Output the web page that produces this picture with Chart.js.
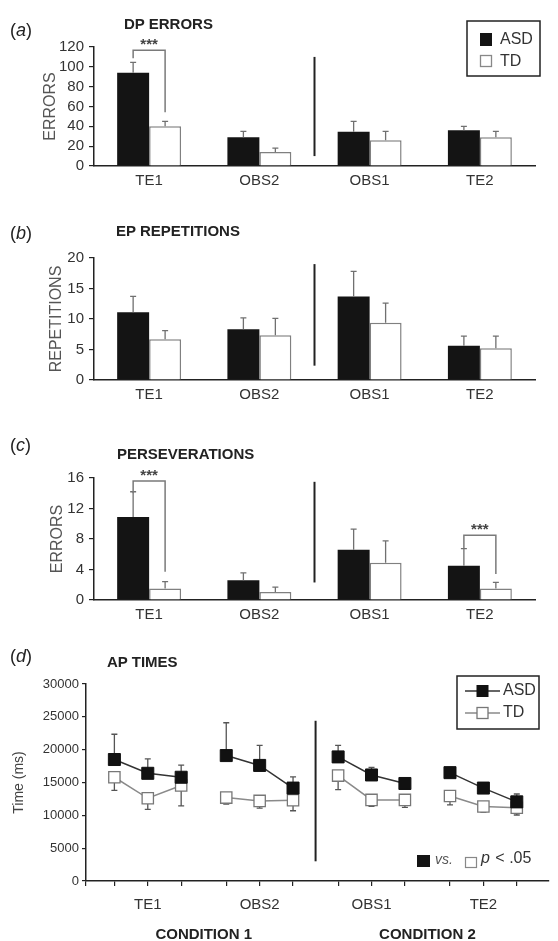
<!DOCTYPE html>
<html><head><meta charset="utf-8">
<script src="https://cdn.jsdelivr.net/npm/chart.js@4.4.0/dist/chart.umd.min.js"></script>
<style>
html,body{margin:0;padding:0;background:#fff;}
body{width:558px;height:941px;position:relative;overflow:hidden;font-family:"Liberation Sans",Arial,sans-serif;}
canvas{position:absolute;left:0;}
.lab{position:absolute;font-size:18px;color:#222;line-height:1;z-index:2;}
.ttl{position:absolute;font-size:15px;font-weight:bold;color:#222;line-height:1;z-index:2;white-space:nowrap;}
</style></head><body>
<canvas id="ca" width="558" height="192" style="top:0px"></canvas>
<canvas id="cb" width="558" height="212" style="top:190px"></canvas>
<canvas id="cc" width="558" height="218" style="top:410px"></canvas>
<canvas id="cd" width="558" height="301" style="top:640px"></canvas>
<div class="lab" style="left:10px;top:21px">(<i>a</i>)</div>
<div class="ttl" style="left:124px;top:16px">DP ERRORS</div>
<div class="lab" style="left:10px;top:224px">(<i>b</i>)</div>
<div class="ttl" style="left:116px;top:223px">EP REPETITIONS</div>
<div class="lab" style="left:10px;top:436px">(<i>c</i>)</div>
<div class="ttl" style="left:117px;top:446px">PERSEVERATIONS</div>
<div class="lab" style="left:10px;top:647px">(<i>d</i>)</div>
<div class="ttl" style="left:107px;top:654px">AP TIMES</div>
<script>
// ---------- DATA ----------
const categories = ['TE1', 'OBS2', 'OBS1', 'TE2'];
const seriesNames = ['ASD', 'TD'];

// (a) DP errors
const dpASD    = [94, 29, 34.5, 36];
const dpASDErr = [10.5, 6, 10.5, 4];
const dpTD     = [40, 14, 26, 29];
const dpTDErr  = [5, 4, 9, 6];
const dpTicks  = [0, 20, 40, 60, 80, 100, 120];

// (b) EP repetitions
const epASD    = [11.1, 8.3, 13.7, 5.6];
const epASDErr = [2.6, 1.9, 4.1, 1.6];
const epTD     = [6.7, 7.35, 9.4, 5.2];
const epTDErr  = [1.4, 2.75, 3.2, 2.0];
const epTicks  = [0, 5, 10, 15, 20];

// (c) perseverations
const pvASD    = [10.9, 2.6, 6.6, 4.5];
const pvASDErr = [3.3, 0.95, 2.7, 2.25];
const pvTD     = [1.5, 1.05, 4.9, 1.5];
const pvTDErr  = [0.9, 0.65, 2.85, 0.8];
const pvTicks  = [0, 4, 8, 12, 16];

// (d) AP times, three trials per block
const apASD    = [18500, 16400, 15800, 19100, 17600, 14150, 18900, 16150, 14850, 16500, 14150, 12050];
const apASDErr = [3850, 2200, 1850, 5000, 3050, 1700, 1750, 1150, 700, 800, 500, 1200];
const apTD     = [15800, 12600, 14550, 12700, 12200, 12300, 16050, 12350, 12350, 12950, 11350, 11150];
const apTDErr  = [2000, 1700, 3100, 1000, 1100, 1600, 2150, 1000, 1150, 1350, 900, 1100];
const apTicks  = [0, 5000, 10000, 15000, 20000, 25000, 30000];
const conditions = ['CONDITION 1', 'CONDITION 2'];
const trialsPerBlock = 3;

// ---------- STYLE ----------
const FONT = '"Liberation Sans", Arial, sans-serif';
Chart.defaults.font.family = FONT;
const INK = '#222', TICK = '#333', GREY = '#7a7a7a';

function drawErrors(chart, color, capHalf) {
  const ctx = chart.ctx, ys = chart.scales.y;
  ctx.save(); ctx.strokeStyle = color; ctx.lineWidth = 1.3;
  chart.data.datasets.forEach((ds, di) => {
    const meta = chart.getDatasetMeta(di);
    ds.data.forEach((pt, i) => {
      const e = ds.errors[i]; if (e == null) return;
      const v = (pt !== null && typeof pt === 'object') ? pt.y : pt;
      if (v == null) return;
      const el = meta.data[i];
      const y0 = ys.getPixelForValue(v), y1 = ys.getPixelForValue(v + ds.errDir * e);
      ctx.beginPath();
      ctx.moveTo(el.x, y0); ctx.lineTo(el.x, y1);
      ctx.moveTo(el.x - capHalf, y1); ctx.lineTo(el.x + capHalf, y1);
      ctx.stroke();
    });
  });
  ctx.restore();
}

function barChart(id, o) {
  const yt = o.ticks;
  const plugins = [{
    id: 'extras',
    afterDatasetsDraw(chart) {
      drawErrors(chart, '#707070', 3);
      const ctx = chart.ctx, xs = chart.scales.x, ys = chart.scales.y;
      const xd = (xs.getPixelForTick(1) + xs.getPixelForTick(2)) / 2;
      ctx.save();
      ctx.strokeStyle = INK; ctx.lineWidth = 2;
      ctx.beginPath();
      ctx.moveTo(xd, ys.getPixelForValue(o.divider[0]));
      ctx.lineTo(xd, ys.getPixelForValue(o.divider[1]));
      ctx.stroke();
      (o.brackets || []).forEach(b => {
        const xa = chart.getDatasetMeta(0).data[b.i].x, xt = chart.getDatasetMeta(1).data[b.i].x;
        const yTop = ys.getPixelForValue(b.top);
        ctx.strokeStyle = GREY; ctx.lineWidth = 1.5;
        ctx.beginPath();
        ctx.moveTo(xa, ys.getPixelForValue(b.left));
        ctx.lineTo(xa, yTop); ctx.lineTo(xt, yTop);
        ctx.lineTo(xt, ys.getPixelForValue(b.right));
        ctx.stroke();
        ctx.fillStyle = '#444'; ctx.font = 'bold 15px ' + FONT;
        ctx.textAlign = 'center'; ctx.textBaseline = 'alphabetic';
        ctx.fillText('***', (xa + xt) / 2, yTop - 1);
      });
      if (o.legend) {
        ctx.strokeStyle = INK; ctx.lineWidth = 1.5;
        ctx.strokeRect(467, 21, 73, 55);
        ctx.fillStyle = '#141414'; ctx.fillRect(480, 33, 12, 13);
        ctx.fillStyle = '#fff'; ctx.fillRect(480, 55, 12, 12);
        ctx.strokeStyle = '#888'; ctx.lineWidth = 1.3; ctx.strokeRect(480.5, 55.5, 11, 11);
        ctx.fillStyle = '#333'; ctx.font = '16px ' + FONT;
        ctx.textAlign = 'left'; ctx.textBaseline = 'middle';
        ctx.fillText(seriesNames[0], 500, 40);
        ctx.fillText(seriesNames[1], 500, 62);
      }
      ctx.restore();
    }
  }];
  return new Chart(document.getElementById(id), {
    type: 'bar',
    data: {
      labels: categories,
      datasets: [
        { label: seriesNames[0], data: o.asd, errors: o.asdErr, errDir: 1,
          backgroundColor: '#141414', borderColor: '#141414', borderWidth: 0 },
        { label: seriesNames[1], data: o.td, errors: o.tdErr, errDir: 1,
          backgroundColor: '#ffffff', borderColor: '#808080', borderWidth: 1.5 }
      ]
    },
    options: {
      responsive: false, animation: false, devicePixelRatio: 1,
      layout: { padding: { left: 0, right: 23, top: o.padTop, bottom: 0 } },
      datasets: { bar: { barPercentage: 1, categoryPercentage: 0.58 } },
      plugins: { legend: { display: false }, tooltip: { enabled: false } },
      scales: {
        x: {
          grid: { display: false, drawTicks: false },
          border: { display: true, color: INK, width: 1.5 },
          ticks: { color: TICK, font: { size: 15 }, padding: 6, maxRotation: 0 },
          afterFit: s => { s.height = o.xH; }
        },
        y: {
          min: yt[0], max: yt[yt.length - 1],
          afterBuildTicks: s => { s.ticks = yt.map(v => ({ value: v })); },
          ticks: { autoSkip: false, color: TICK, font: { size: 15 }, padding: 5, callback: v => String(v) },
          grid: { drawOnChartArea: false, drawTicks: true, tickLength: 5, color: INK, lineWidth: 1.2 },
          border: { color: INK, width: 1.5 },
          title: { display: true, text: o.ytitle, color: '#555', font: { size: 16 }, padding: { top: o.titlePad, bottom: 0 } },
          afterFit: s => { s.width = 94; }
        }
      }
    },
    plugins
  });
}

barChart('ca', { asd: dpASD, asdErr: dpASDErr, td: dpTD, tdErr: dpTDErr, ticks: dpTicks,
  ytitle: 'ERRORS', padTop: 47, xH: 26, titlePad: 41, divider: [110, 10], legend: true,
  brackets: [{ i: 0, top: 116.7, left: 108.6, right: 54.3 }] });
barChart('cb', { asd: epASD, asdErr: epASDErr, td: epTD, tdErr: epTDErr, ticks: epTicks,
  ytitle: 'REPETITIONS', padTop: 68, xH: 22, titlePad: 47, divider: [19, 2.35] });
barChart('cc', { asd: pvASD, asdErr: pvASDErr, td: pvTD, tdErr: pvTDErr, ticks: pvTicks,
  ytitle: 'ERRORS', padTop: 68, xH: 28, titlePad: 48, divider: [15.5, 2.3],
  brackets: [{ i: 0, top: 15.6, left: 14.0, right: 3.7 }, { i: 3, top: 8.5, left: 6.8, right: 3.4 }] });

// ---------- (d) line chart ----------
const BLOCK_STRIDE = 3.35;
const xOf = i => Math.floor(i / trialsPerBlock) * BLOCK_STRIDE + (i % trialsPerBlock);
const xPositions = apASD.map((_, i) => xOf(i));
function withGaps(vals) {
  const out = [];
  vals.forEach((v, i) => {
    out.push({ x: xOf(i), y: v });
    if (i % trialsPerBlock === trialsPerBlock - 1 && i < vals.length - 1) out.push({ x: xOf(i) + 0.5, y: null });
  });
  return out;
}
function errWithGaps(errs) {
  const out = [];
  errs.forEach((e, i) => {
    out.push(e);
    if (i % trialsPerBlock === trialsPerBlock - 1 && i < errs.length - 1) out.push(null);
  });
  return out;
}
const X_MIN = -0.85, X_MAX = 13;

new Chart(document.getElementById('cd'), {
  type: 'line',
  data: {
    datasets: [
      { label: seriesNames[0], data: withGaps(apASD), errors: errWithGaps(apASDErr), errDir: 1,
        borderColor: '#333', borderWidth: 1.5, spanGaps: false,
        pointStyle: 'rect', pointRadius: 8.5, pointBackgroundColor: '#111', pointBorderColor: '#111', pointBorderWidth: 1 },
      { label: seriesNames[1], data: withGaps(apTD), errors: errWithGaps(apTDErr), errDir: -1,
        borderColor: '#8a8a8a', borderWidth: 1.5, spanGaps: false,
        pointStyle: 'rect', pointRadius: 8, pointBackgroundColor: '#fff', pointBorderColor: '#777', pointBorderWidth: 1.3 }
    ]
  },
  options: {
    responsive: false, animation: false, devicePixelRatio: 1,
    layout: { padding: { left: 0, right: 0, top: 44, bottom: 0 } },
    plugins: { legend: { display: false }, tooltip: { enabled: false } },
    scales: {
      x: {
        type: 'linear', min: X_MIN, max: X_MAX,
        afterBuildTicks: s => { s.ticks = [{ value: X_MIN }].concat(xPositions.map(v => ({ value: v }))); },
        ticks: {
          autoSkip: false, maxRotation: 0, color: TICK, font: { size: 15 }, padding: 10,
          callback: v => {
            const idx = xPositions.indexOf(v);
            return (idx >= 0 && idx % trialsPerBlock === 1) ? categories[Math.floor(idx / trialsPerBlock)] : '';
          }
        },
        grid: { drawOnChartArea: false, drawTicks: true, tickLength: 5, color: INK, lineWidth: 1.2 },
        border: { color: INK, width: 1.5 },
        afterFit: s => { s.height = 60; }
      },
      y: {
        min: apTicks[0], max: apTicks[apTicks.length - 1],
        afterBuildTicks: s => { s.ticks = apTicks.map(v => ({ value: v })); },
        ticks: { autoSkip: false, color: TICK, font: { size: 13 }, padding: 3, callback: v => String(v) },
        grid: { drawOnChartArea: false, drawTicks: true, tickLength: 4, color: INK, lineWidth: 1.2 },
        border: { color: INK, width: 1.5 },
        title: { display: true, text: 'Time (ms)', color: '#444', font: { size: 14 }, padding: { top: 11, bottom: 0 } },
        afterFit: s => { s.width = 86; }
      }
    }
  },
  plugins: [{
    id: 'apExtras',
    beforeDatasetsDraw(chart) { drawErrors(chart, '#555', 3); },
    afterDatasetsDraw(chart) {
      const ctx = chart.ctx, xs = chart.scales.x, ys = chart.scales.y;
      ctx.save();
      const xd = xs.getPixelForValue((xOf(5) + xOf(6)) / 2);
      ctx.strokeStyle = INK; ctx.lineWidth = 2;
      ctx.beginPath();
      ctx.moveTo(xd, ys.getPixelForValue(24400)); ctx.lineTo(xd, ys.getPixelForValue(3000));
      ctx.stroke();
      ctx.fillStyle = INK; ctx.font = 'bold 15px ' + FONT;
      ctx.textAlign = 'center'; ctx.textBaseline = 'middle';
      ctx.fillText(conditions[0], xs.getPixelForValue((xOf(1) + xOf(4)) / 2), 295);
      ctx.fillText(conditions[1], xs.getPixelForValue((xOf(7) + xOf(10)) / 2), 295);
      ctx.strokeStyle = INK; ctx.lineWidth = 1.5;
      ctx.strokeRect(457, 36, 82, 53);
      ctx.lineWidth = 1.5;
      ctx.strokeStyle = '#333'; ctx.beginPath(); ctx.moveTo(465, 51); ctx.lineTo(500, 51); ctx.stroke();
      ctx.fillStyle = '#111'; ctx.fillRect(476.5, 45, 12, 12);
      ctx.strokeStyle = '#8a8a8a'; ctx.beginPath(); ctx.moveTo(465, 73); ctx.lineTo(500, 73); ctx.stroke();
      ctx.fillStyle = '#fff'; ctx.fillRect(477, 67.5, 11, 11);
      ctx.strokeStyle = '#777'; ctx.lineWidth = 1.3; ctx.strokeRect(477, 67.5, 11, 11);
      ctx.fillStyle = '#333'; ctx.font = '16px ' + FONT; ctx.textAlign = 'left';
      ctx.fillText(seriesNames[0], 503, 51);
      ctx.fillText(seriesNames[1], 503, 73);
      ctx.fillStyle = '#141414'; ctx.fillRect(417, 215, 13, 12);
      ctx.fillStyle = '#555'; ctx.font = 'italic 14px ' + FONT;
      ctx.fillText('vs.', 435, 220);
      ctx.strokeStyle = '#888'; ctx.lineWidth = 1.2; ctx.strokeRect(465.5, 217.5, 11, 10);
      ctx.fillStyle = '#333'; ctx.font = 'italic 16px ' + FONT;
      ctx.fillText('p', 481, 219);
      ctx.font = '16px ' + FONT;
      ctx.fillText(' < .05', 481 + ctx.measureText('p').width + 1, 219);
      ctx.restore();
    }
  }]
});
</script>
</body></html>
